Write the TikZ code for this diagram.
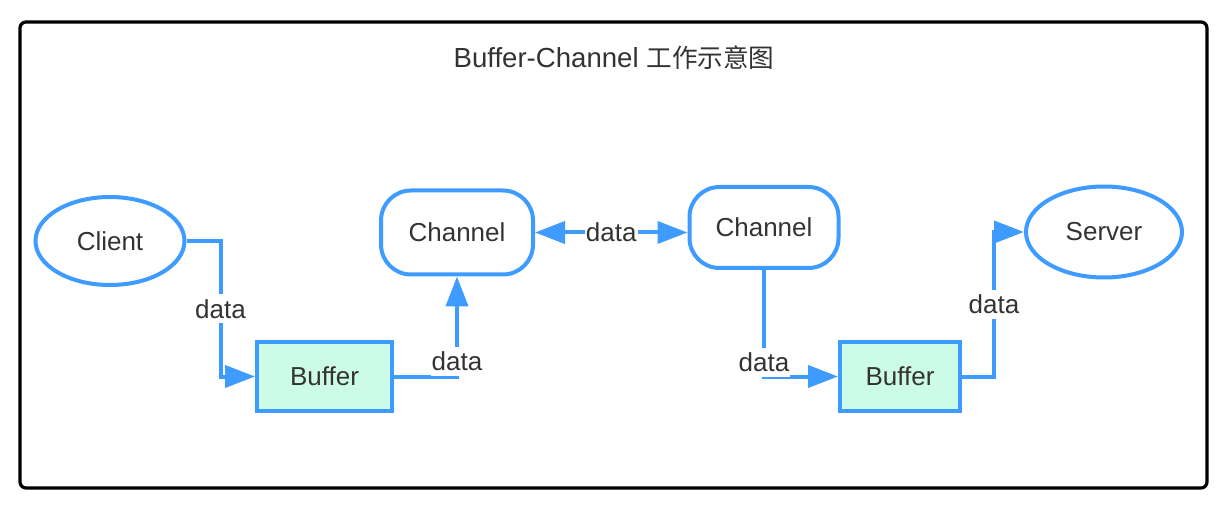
\documentclass[tikz,border=0pt]{standalone}
\usepackage{fontspec}
\setmainfont{Liberation Sans}
\newfontfamily\cjk{Noto Sans CJK SC}
\usetikzlibrary{shapes.geometric,arrows.meta}
\definecolor{lineblue}{HTML}{3E9BFF}
\definecolor{buffill}{HTML}{CCFBE8}
\definecolor{txt}{HTML}{333333}

\begin{document}
\begin{tikzpicture}[x=0.5pt, y=-0.5pt,
every node/.style={%
    text=txt, font=\fontsize{13pt}{15pt}\selectfont, inner sep=1pt
    },
endpoint/.style={ellipse, draw=lineblue, line width=2pt, fill=white},
chan/.style={rectangle, rounded corners=15pt, draw=lineblue, line width=2pt,
    minimum width=76pt, minimum height=42pt},
buf/.style={rectangle, draw=lineblue, line width=2pt, fill=buffill,
    minimum height=34.5pt},
link/.style={draw=lineblue, line width=2pt, -{Triangle[length=15pt,width=11pt]}},
lbl/.style={fill=white, inner xsep=0.5pt, inner ysep=2.5pt}
]
\useasboundingbox (0,0) rectangle (1228,508);
\draw[line width=1.6pt, rounded corners=3pt] (20,22) rectangle (1207,488);

\node (title) at (614,58) {\fontsize{13.8pt}{16pt}\selectfont Buffer-Channel {\cjk\fontsize{12.8pt}{16pt}\selectfont 工作示意图}};

\node[endpoint, minimum width=74.5pt, minimum height=44pt] (client) at (110,241) {Client};
\node[endpoint, minimum width=78pt, minimum height=45.5pt] (server) at (1104,232) {Server};
\node[chan] (ch1) at (457,232.5) {Channel};
\node[chan, minimum width=74.5pt, minimum height=40.5pt] (ch2) at (764,227.5) {Channel};
\node[buf, minimum width=67.5pt] (buf1) at (324.5,376.5) {Buffer};
\node[buf, minimum width=60pt] (buf2) at (900,376.5) {Buffer};

% data paths
\draw[link] (client.east) -- ++(17pt,0) |- node[lbl, pos=0.25] (d1) {data} (buf1.west);
\draw[link] (buf1.east) -| node[lbl, pos=0.5, yshift=7.5pt] (d2) {data} (ch1.south);
\draw[link, {Triangle[length=15pt,width=11pt]}-{Triangle[length=15pt,width=11pt]}]
    (ch1.east) -- node[lbl] (d3) {data} (ch1.east -| ch2.west);
\draw[link] (ch2.south) |- node[lbl, pos=0.5, yshift=7pt] (d4) {data} (buf2.west);
\draw[link] (buf2.east) -- ++(16pt,0) |- node[lbl, pos=0.25] (d5) {data} (server.west);

\end{tikzpicture}
\end{document}
